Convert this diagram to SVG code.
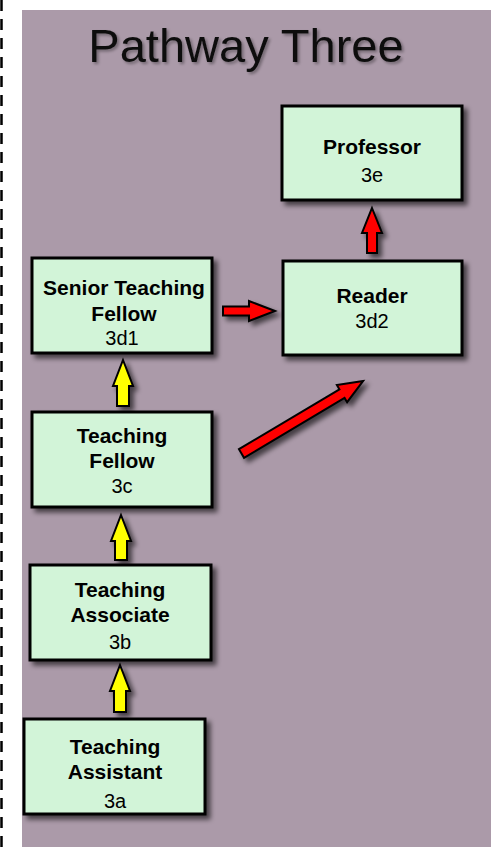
<svg xmlns="http://www.w3.org/2000/svg" width="491" height="847" viewBox="0 0 491 847">
  <defs>
    <filter id="shadow" x="-20%" y="-20%" width="150%" height="150%">
      <feGaussianBlur in="SourceAlpha" stdDeviation="2.5"/>
      <feOffset dx="4" dy="4" result="blur"/>
      <feComponentTransfer><feFuncA type="linear" slope="0.6"/></feComponentTransfer>
      <feMerge><feMergeNode/><feMergeNode in="SourceGraphic"/></feMerge>
    </filter>
    <filter id="textShadow" x="-10%" y="-20%" width="130%" height="160%">
      <feGaussianBlur in="SourceAlpha" stdDeviation="1.5"/>
      <feOffset dx="2" dy="2"/>
      <feComponentTransfer><feFuncA type="linear" slope="0.35"/></feComponentTransfer>
      <feMerge><feMergeNode/><feMergeNode in="SourceGraphic"/></feMerge>
    </filter>
    <style>
      .panel { fill: #ab9aa9; }
      .box { fill: #d2f4d8; stroke: #000; stroke-width: 3; }
      .name { font-family: "Liberation Sans", Arial, sans-serif; font-size: 21px; font-weight: bold; fill: #000; text-anchor: middle; }
      .code { font-family: "Liberation Sans", Arial, sans-serif; font-size: 20px; fill: #000; text-anchor: middle; }
      .title { font-family: "Liberation Sans", Arial, sans-serif; font-size: 47px; fill: #111; text-anchor: middle; }
      .red { fill: #ff0000; stroke: #000; stroke-width: 2; stroke-linejoin: miter; }
      .yellow { fill: #ffff00; stroke: #000; stroke-width: 2; stroke-linejoin: miter; }
    </style>
  </defs>

  <rect width="491" height="847" fill="#fff"/>
  <line x1="1.5" y1="0" x2="1.5" y2="847" stroke="#000" stroke-width="2.5" stroke-dasharray="11 8"/>
  <rect class="panel" x="22" y="10" width="469" height="837"/>

  <text class="title" x="246" y="62" filter="url(#textShadow)">Pathway Three</text>

  <g id="connectors" filter="url(#shadow)">
    <polygon class="yellow" points="123,360 133,386 129,386 129,406 117,406 117,386 113,386"/>
    <polygon class="yellow" points="121,515 131,541 127,541 127,560 115,560 115,541 111,541"/>
    <polygon class="yellow" points="120,665 130,691 126,691 126,712 114,712 114,691 110,691"/>
    <polygon class="red" points="372,208 382,233 377,233 377,253 367,253 367,233 362,233"/>
    <polygon class="red" points="275,311 249,301 249,306.5 223,306.5 223,315.5 249,315.5 249,321"/>
    <polygon class="red" transform="translate(241.5,453.5) rotate(-30.8)" points="141.5,0 117,-10 117,-5 0,-5 0,5 117,5 117,10"/>
  </g>

  <g id="professor">
    <rect class="box" x="282" y="106" width="180" height="94" filter="url(#shadow)"/>
    <text class="name" x="372" y="154">Professor</text>
    <text class="code" x="372" y="182">3e</text>
  </g>

  <g id="reader">
    <rect class="box" x="283" y="261" width="179" height="94" filter="url(#shadow)"/>
    <text class="name" x="372" y="303">Reader</text>
    <text class="code" x="372" y="328">3d2</text>
  </g>

  <g id="senior-teaching-fellow">
    <rect class="box" x="32" y="258" width="180" height="95" filter="url(#shadow)"/>
    <text class="name" x="124" y="295">Senior Teaching</text>
    <text class="name" x="124" y="321">Fellow</text>
    <text class="code" x="122" y="345">3d1</text>
  </g>

  <g id="teaching-fellow">
    <rect class="box" x="32" y="412" width="180" height="95" filter="url(#shadow)"/>
    <text class="name" x="122" y="443">Teaching</text>
    <text class="name" x="122" y="468">Fellow</text>
    <text class="code" x="122" y="493">3c</text>
  </g>

  <g id="teaching-associate">
    <rect class="box" x="30" y="565" width="181" height="95" filter="url(#shadow)"/>
    <text class="name" x="120" y="597">Teaching</text>
    <text class="name" x="120" y="622">Associate</text>
    <text class="code" x="120" y="649">3b</text>
  </g>

  <g id="teaching-assistant">
    <rect class="box" x="24" y="719" width="181" height="95" filter="url(#shadow)"/>
    <text class="name" x="115" y="754">Teaching</text>
    <text class="name" x="115" y="779">Assistant</text>
    <text class="code" x="115" y="808">3a</text>
  </g>
</svg>
